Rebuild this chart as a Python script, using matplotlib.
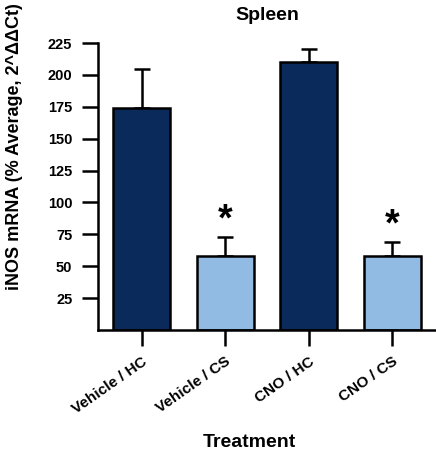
import matplotlib
matplotlib.use("Agg")
import matplotlib.pyplot as plt

plt.rcParams['font.family'] = ['Liberation Sans', 'DejaVu Sans']
plt.rcParams['font.weight'] = 'bold'

categories = ["Vehicle / HC", "Vehicle / CS", "CNO / HC", "CNO / CS"]
means = [174, 58, 210, 58]
errors = [31, 15, 10, 11]
colors = ["#0b2a5c", "#92bbe3", "#0b2a5c", "#92bbe3"]
star_flags = [False, True, False, True]
star_y = [0, 86, 0, 82]
yticks = [25, 50, 75, 100, 125, 150, 175, 200, 225]

fig = plt.figure(figsize=(4.36, 4.66), dpi=100)
ax = fig.add_axes([0.2248, 0.2918, 0.7752, 0.6159])

x = list(range(len(categories)))
ax.bar(x, means, width=0.68, color=colors, edgecolor="black", linewidth=1.8, zorder=2)
ax.errorbar(x, means, yerr=[[0]*4, errors], fmt="none", ecolor="black",
            elinewidth=1.8, capsize=6, capthick=1.8, zorder=1)
for xi, f, sy in zip(x, star_flags, star_y):
    if f:
        ax.text(xi, sy, "*", ha="center", va="center", fontsize=27, fontweight="bold")

ax.set_xlim(-0.52, 3.52)
ax.set_ylim(0, 225)
ax.set_yticks(yticks)
ax.set_yticklabels([str(t) for t in yticks], fontsize=10.5, fontweight="bold")
ax.set_xticks(x)
ax.set_xticklabels(categories, rotation=35, ha="right", rotation_mode="anchor",
                   fontsize=11, fontweight="bold")
ax.spines["top"].set_visible(False)
ax.spines["right"].set_visible(False)
ax.spines["left"].set_linewidth(1.8)
ax.spines["bottom"].set_linewidth(1.8)
ax.tick_params(axis="y", length=11.5, width=1.8, pad=7)
ax.tick_params(axis="x", length=11.5, width=1.8, pad=6)

fig.text(0.6124, 0.966, "Spleen", ha="center", va="center", fontsize=14, fontweight="bold")
fig.text(0.034, 0.6845, "iNOS mRNA (% Average, 2^\u0394\u0394Ct)", rotation=90,
         ha="center", va="center", fontsize=13, fontweight="bold")
fig.text(0.571, 0.0515, "Treatment", ha="center", va="center", fontsize=14, fontweight="bold")

fig.savefig("out.png", dpi=100)
